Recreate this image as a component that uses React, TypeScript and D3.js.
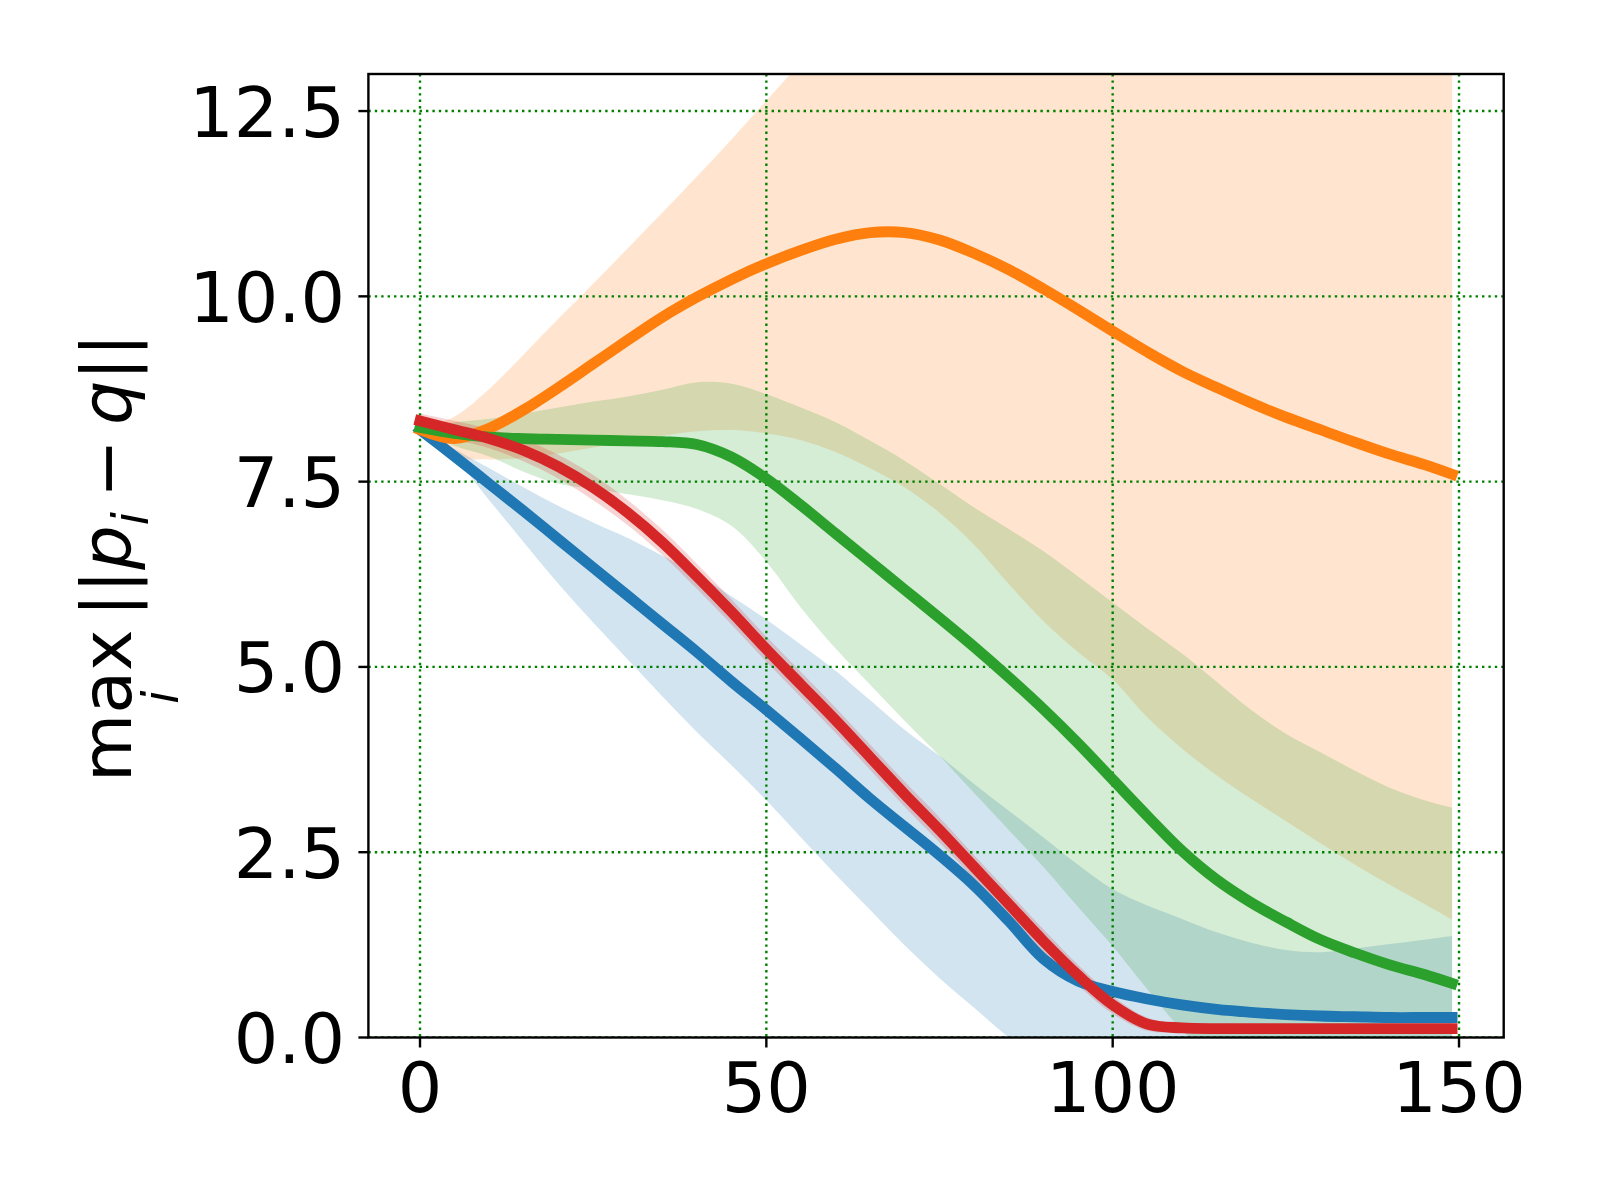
import * as d3 from "d3";

// sampled iterations
const steps = [0, 5, 10, 15, 20, 25, 30, 35, 40, 45, 50, 55, 60, 65, 70, 75, 80, 85, 90, 95, 100, 105, 110, 115, 120, 125, 130, 135, 140, 145, 149];

const blueMean = [8.2, 7.84, 7.47, 7.1, 6.72, 6.34, 5.96, 5.58, 5.2, 4.8, 4.42, 4.03, 3.63, 3.22, 2.84, 2.46, 2.05, 1.57, 1.06, 0.76, 0.62, 0.52, 0.44, 0.38, 0.34, 0.31, 0.29, 0.28, 0.27, 0.27, 0.27];
const blueHigh = [8.2, 7.94, 7.68, 7.42, 7.17, 6.95, 6.74, 6.5, 6.25, 5.95, 5.64, 5.3, 4.95, 4.55, 4.15, 3.8, 3.42, 3.06, 2.7, 2.33, 2.0, 1.78, 1.6, 1.42, 1.28, 1.18, 1.15, 1.2, 1.26, 1.32, 1.37];
const blueLow = [8.2, 7.82, 7.25, 6.68, 6.12, 5.6, 5.1, 4.6, 4.12, 3.67, 3.2, 2.7, 2.2, 1.72, 1.24, 0.8, 0.4, 0.0, -0.35, -0.6, -0.72, -0.74, -0.74, -0.7, -0.66, -0.62, -0.6, -0.66, -0.72, -0.78, -0.83];

const orangeMean = [8.2, 8.08, 8.22, 8.47, 8.77, 9.09, 9.41, 9.72, 9.99, 10.23, 10.44, 10.62, 10.77, 10.86, 10.86, 10.76, 10.58, 10.36, 10.1, 9.82, 9.53, 9.25, 8.99, 8.77, 8.56, 8.37, 8.2, 8.03, 7.87, 7.73, 7.6];
const orangeHigh = [8.2, 8.38, 8.75, 9.22, 9.7, 10.17, 10.65, 11.13, 11.62, 12.12, 12.64, 13.15, 13.6, 13.95, 14.15, 14.25, 14.28, 14.25, 14.2, 14.18, 14.2, 14.2, 14.15, 14.1, 14.05, 13.95, 13.9, 13.85, 13.75, 13.7, 13.6];
const orangeLow = [8.2, 7.84, 7.8, 7.82, 7.88, 7.96, 8.04, 8.12, 8.18, 8.2, 8.15, 8.06, 7.9, 7.68, 7.42, 7.08, 6.65, 6.12, 5.62, 5.2, 4.83, 4.32, 3.9, 3.54, 3.22, 2.92, 2.62, 2.33, 2.06, 1.8, 1.59];

const greenMean = [8.23, 8.15, 8.1, 8.08, 8.07, 8.06, 8.05, 8.04, 8.0, 7.83, 7.54, 7.18, 6.8, 6.42, 6.04, 5.66, 5.27, 4.86, 4.43, 3.97, 3.48, 2.99, 2.52, 2.13, 1.82, 1.56, 1.32, 1.14, 0.98, 0.85, 0.73];
const greenHigh = [8.2, 8.3, 8.35, 8.42, 8.5, 8.58, 8.65, 8.74, 8.84, 8.82, 8.68, 8.5, 8.3, 8.05, 7.78, 7.47, 7.15, 6.86, 6.56, 6.22, 5.87, 5.52, 5.18, 4.8, 4.42, 4.1, 3.85, 3.6, 3.37, 3.2, 3.1];
const greenLow = [8.2, 7.98, 7.84, 7.63, 7.47, 7.4, 7.33, 7.25, 7.13, 6.9, 6.42, 5.8, 5.25, 4.76, 4.27, 3.8, 3.3, 2.8, 2.3, 1.76, 1.23, 0.65, 0.1, -0.3, -0.65, -0.95, -1.2, -1.35, -1.45, -1.55, -1.64];

const redMean = [8.32, 8.2, 8.08, 7.92, 7.7, 7.42, 7.08, 6.68, 6.22, 5.74, 5.24, 4.76, 4.28, 3.78, 3.28, 2.8, 2.3, 1.8, 1.3, 0.84, 0.44, 0.18, 0.13, 0.12, 0.12, 0.12, 0.12, 0.12, 0.12, 0.12, 0.12];
const redHigh = [8.42, 8.32, 8.21, 8.07, 7.86, 7.59, 7.25, 6.85, 6.39, 5.91, 5.41, 4.93, 4.45, 3.95, 3.45, 2.97, 2.46, 1.96, 1.46, 0.98, 0.56, 0.27, 0.19, 0.17, 0.17, 0.17, 0.17, 0.17, 0.17, 0.17, 0.17];
const redLow = [8.22, 8.08, 7.95, 7.77, 7.54, 7.25, 6.91, 6.51, 6.05, 5.57, 5.07, 4.59, 4.11, 3.61, 3.11, 2.63, 2.14, 1.64, 1.14, 0.7, 0.32, 0.09, 0.07, 0.07, 0.07, 0.07, 0.07, 0.07, 0.07, 0.07, 0.07];

const xTicks = [0, 50, 100, 150];
const yTicks = [0, 2.5, 5, 7.5, 10, 12.5];

const series = [
  { color: "#1f77b4", mean: blueMean, lo: blueLow, hi: blueHigh },
  { color: "#ff7f0e", mean: orangeMean, lo: orangeLow, hi: orangeHigh },
  { color: "#2ca02c", mean: greenMean, lo: greenLow, hi: greenHigh },
  { color: "#d62728", mean: redMean, lo: redLow, hi: redHigh },
];

const W = 1600;
const H = 1200;
const left = 368.4;
const right = 1503.7;
const top = 74;
const bottom = 1037.5;
const font = "'DejaVu Sans', sans-serif";

const x = d3.scaleLinear().domain([-7.45, 156.45]).range([left, right]);
const y = d3.scaleLinear().domain([0, 13]).range([bottom, top]);
const curve = d3.curveCatmullRom.alpha(0.5);

const line = (vals: number[]) =>
  d3
    .line<number>()
    .x((_, i) => x(steps[i]))
    .y((d) => y(d))
    .curve(curve)(vals) ?? "";

const band = (lo: number[], hi: number[]) =>
  d3
    .area<number>()
    .x((i) => x(steps[i]))
    .y0((i) => y(lo[i]))
    .y1((i) => y(hi[i]))
    .curve(curve)(d3.range(steps.length)) ?? "";

export default function App() {
  const fmt = d3.format(".1f");
  return (
    <svg
      width={W}
      height={H}
      viewBox={`0 0 ${W} ${H}`}
      style={{ position: "absolute", left: 0, top: 0, background: "#fff" }}
      fontFamily={font}
    >
      <defs>
        <clipPath id="plot">
          <rect x={left} y={top} width={right - left} height={bottom - top} />
        </clipPath>
      </defs>

      <g clipPath="url(#plot)">
        {series.map((s) => (
          <path key={"b" + s.color} d={band(s.lo, s.hi)} fill={s.color} fillOpacity={0.2} />
        ))}
        {xTicks.map((t) => (
          <line key={"gx" + t} x1={x(t)} x2={x(t)} y1={top} y2={bottom} stroke="#008000" strokeWidth={2.4} strokeDasharray="2.4 4" />
        ))}
        {yTicks.map((t) => (
          <line key={"gy" + t} x1={left} x2={right} y1={y(t)} y2={y(t)} stroke="#008000" strokeWidth={2.4} strokeDasharray="2.4 4" />
        ))}
        {series.map((s) => (
          <path
            key={"l" + s.color}
            d={line(s.mean)}
            fill="none"
            stroke={s.color}
            strokeWidth={10.8}
            strokeLinecap="square"
            strokeLinejoin="round"
          />
        ))}
      </g>

      <rect x={left} y={top} width={right - left} height={bottom - top} fill="none" stroke="#000" strokeWidth={2.4} />

      {xTicks.map((t) => (
        <g key={"tx" + t}>
          <line x1={x(t)} x2={x(t)} y1={bottom} y2={bottom + 10} stroke="#000" strokeWidth={2.4} />
          <text x={x(t)} y={1112} textAnchor="middle" fontSize={70}>
            {t}
          </text>
        </g>
      ))}
      {yTicks.map((t) => (
        <g key={"ty" + t}>
          <line x1={left - 10} x2={left} y1={y(t)} y2={y(t)} stroke="#000" strokeWidth={2.4} />
          <text x={345} y={y(t) + 25.5} textAnchor="end" fontSize={70}>
            {fmt(t)}
          </text>
        </g>
      ))}

      <text transform="translate(131,782) rotate(-90)" fontSize={70}>
        <tspan>max</tspan>
        <tspan x={78} dy={47} fontSize={49} fontStyle="italic">i</tspan>
        <tspan x={165} dy={-47}>||</tspan>
        <tspan fontStyle="italic">p</tspan>
        <tspan dy={17} fontSize={49} fontStyle="italic">i</tspan>
        <tspan dy={-17} dx={14}>−</tspan>
        <tspan dx={14} fontStyle="italic">q</tspan>
        <tspan>||</tspan>
      </text>
    </svg>
  );
}
